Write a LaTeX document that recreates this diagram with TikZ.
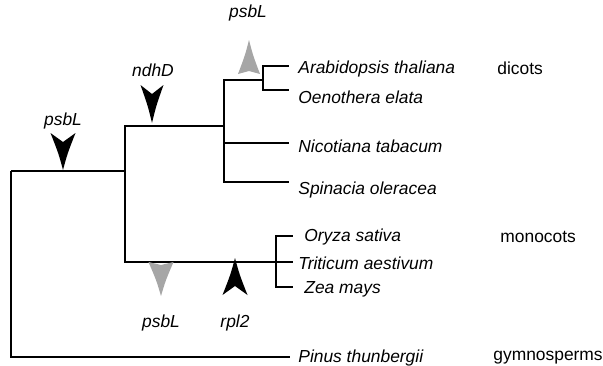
\documentclass[tikz,border=0pt]{standalone}
\usepackage{fontspec}
\setmainfont{Liberation Sans}
\usetikzlibrary{positioning}
\tikzset{
 cladogram/.style={line cap=butt,line join=miter},
 branch/.style={draw=black,line width=1.05pt},
 taxon/.style={font=\fontsize{8.7}{10}\selectfont\itshape,anchor=west,inner sep=0pt},
 group/.style={font=\fontsize{8.7}{10}\selectfont,anchor=west,inner sep=0pt},
 genelabel/.style={font=\fontsize{8.7}{10}\selectfont\itshape,inner sep=0pt},
 solidmark/.style={fill=black},
 shadedmark/.style={fill=black!35}
}
\newcommand{\geneMark}[7]{%
 \begin{scope}[shift={(#1,#2)},yscale=#3]
 \fill[#4] (0,0) .. controls (0.36*#5,-0.45*#6) .. (#5,-#6) -- (0,-#6+#7) -- (-#5,-#6) .. controls (-0.36*#5,-0.45*#6) .. (0,0) -- cycle;
 \end{scope}}

\begin{document}
\begin{tikzpicture}[cladogram,x=0.5pt,y=-0.5pt]
 \useasboundingbox (0,0) rectangle (603,365);
 \coordinate (root) at (11,171);
 \coordinate (angio) at (125,171);
 \coordinate (dicot) at (224,126);
 \coordinate (ao) at (263,80);
 \coordinate (mono) at (276,262);
 \foreach \tip/\lx/\ly/\tx/\ty/\name in {
   ara/289/66/298/69/Arabidopsis thaliana,
   oen/289/90/298/97/Oenothera elata,
   nic/289/143/298/146/Nicotiana tabacum,
   spi/289/182/298/190/Spinacia oleracea,
   ory/293/236/304/237/Oryza sativa,
   tri/293/262/298/263/Triticum aestivum,
   zea/293/287/304/289/Zea mays,
   pin/290/357/298/358/Pinus thunbergii}{
   \coordinate (\tip) at (\lx,\ly);
   \node[taxon] (\tip-name) at (\tx,\ty) {\name};
 }
 \draw[branch] (root) |- (angio);
 \draw[branch] (root) |- (pin);
 \draw[branch] (angio) |- (dicot);
 \draw[branch] (angio) |- (mono);
 \draw[branch] (dicot) |- (ao);
 \draw[branch] (dicot) |- (nic);
 \draw[branch] (dicot) |- (spi);
 \draw[branch] (ao) |- (ara);
 \draw[branch] (ao) |- (oen);
 \draw[branch] (mono) |- (ory);
 \draw[branch] (mono) |- (tri);
 \draw[branch] (mono) |- (zea);
 \node[group] (dicots) at (497,68) {dicots};
 \node[group] (monocots) at (500,237) {monocots};
 \node[group] (gymno) at (493,358) {gymnosperms};
 \geneMark{63}{170}{1}{solidmark}{12.5}{37}{9}
 \geneMark{152}{123}{1}{solidmark}{11.5}{38}{9}
 \geneMark{235}{258}{-1}{solidmark}{12.5}{37}{9}
 \geneMark{249}{40}{-1}{shadedmark}{11}{34}{3}
 \geneMark{161}{296}{1}{shadedmark}{12.5}{34}{3}
 \node[genelabel] (psbL-top) at (248,13) {psbL};
 \node[genelabel] (psbL-root) at (63,121) {psbL};
 \node[genelabel] (ndhD) at (153,70) {ndhD};
 \node[genelabel] (psbL-mono) at (161,323) {psbL};
 \node[genelabel] (rpl2) at (235,323) {rpl2};
\end{tikzpicture}
\end{document}
